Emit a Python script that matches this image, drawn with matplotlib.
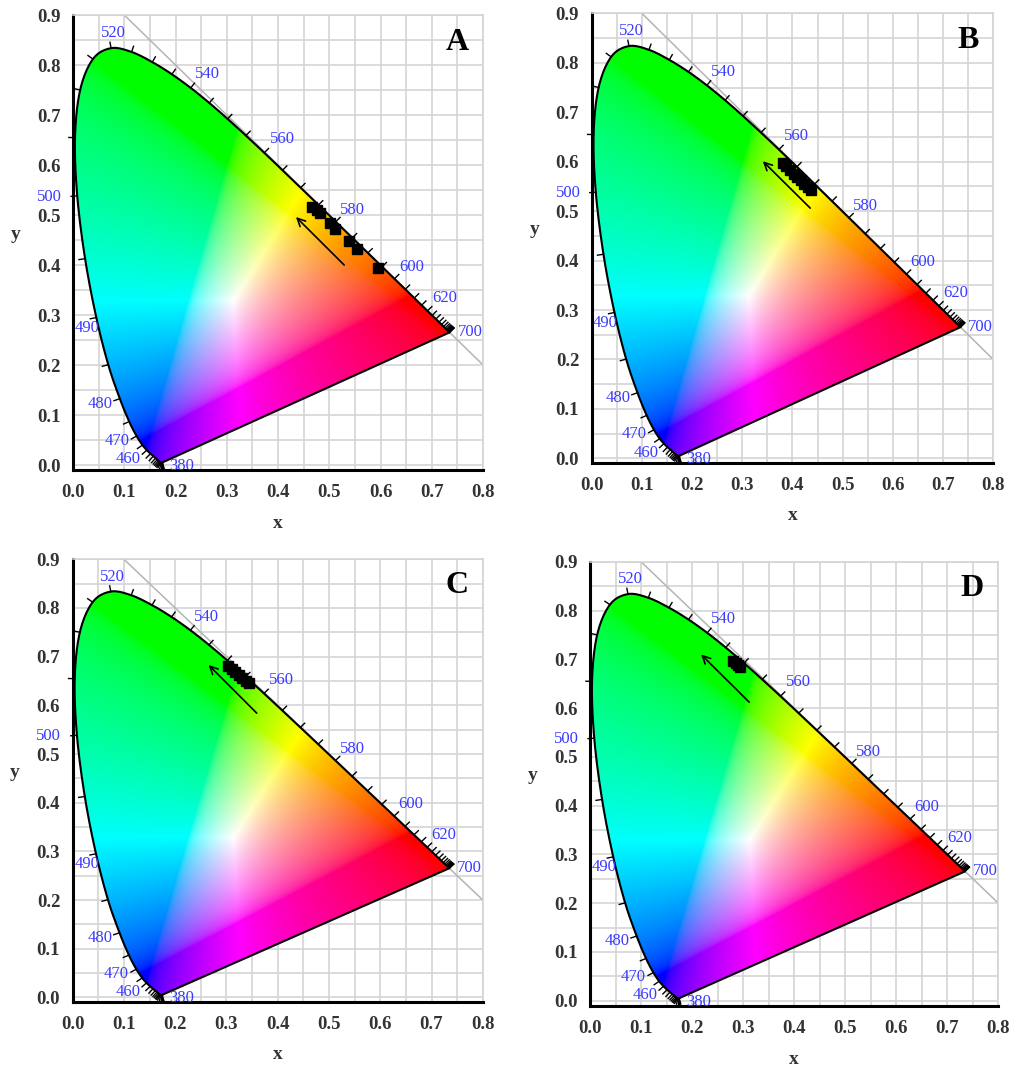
import numpy as np
import matplotlib
matplotlib.use("Agg")
import matplotlib.pyplot as plt
from matplotlib.patches import Polygon

plt.rcParams['font.family'] = ['Liberation Serif', 'DejaVu Serif']

# CIE 1931 2 deg spectral locus, 380-700 nm every 5 nm
wavelengths = list(range(380, 705, 5))
locus_x = [0.1741, 0.1740, 0.1738, 0.1736, 0.1733, 0.1730, 0.1726, 0.1721, 0.1714, 0.1703,
           0.1689, 0.1669, 0.1644, 0.1611, 0.1566, 0.1510, 0.1440, 0.1355, 0.1241, 0.1096,
           0.0913, 0.0687, 0.0454, 0.0235, 0.0082, 0.0039, 0.0139, 0.0389, 0.0743, 0.1142,
           0.1547, 0.1929, 0.2296, 0.2658, 0.3016, 0.3373, 0.3731, 0.4087, 0.4441, 0.4788,
           0.5125, 0.5448, 0.5752, 0.6029, 0.6270, 0.6482, 0.6658, 0.6801, 0.6915, 0.7006,
           0.7079, 0.7140, 0.7190, 0.7230, 0.7260, 0.7283, 0.7300, 0.7311, 0.7320, 0.7327,
           0.7334, 0.7340, 0.7344, 0.7346, 0.7347]
locus_y = [0.0050, 0.0050, 0.0049, 0.0049, 0.0048, 0.0048, 0.0048, 0.0048, 0.0051, 0.0058,
           0.0069, 0.0086, 0.0109, 0.0138, 0.0177, 0.0227, 0.0297, 0.0399, 0.0578, 0.0868,
           0.1327, 0.2007, 0.2950, 0.4127, 0.5384, 0.6548, 0.7502, 0.8120, 0.8338, 0.8262,
           0.8059, 0.7816, 0.7543, 0.7243, 0.6923, 0.6589, 0.6245, 0.5896, 0.5547, 0.5202,
           0.4866, 0.4544, 0.4242, 0.3965, 0.3725, 0.3514, 0.3340, 0.3197, 0.3083, 0.2993,
           0.2920, 0.2859, 0.2809, 0.2770, 0.2740, 0.2717, 0.2700, 0.2689, 0.2680, 0.2673,
           0.2666, 0.2660, 0.2656, 0.2654, 0.2653]

labelled_wl = [380, 460, 470, 480, 490, 500, 520, 540, 560, 580, 600, 620, 700]

# measured chromaticity coordinates for each sample set
panels = ['A', 'B', 'C', 'D']
pts_a_x = [0.466, 0.4755, 0.482, 0.501, 0.511, 0.539, 0.554, 0.5945]
pts_a_y = [0.517, 0.510, 0.504, 0.484, 0.472, 0.448, 0.432, 0.395]
pts_b_x = [0.381, 0.388, 0.395, 0.403, 0.410, 0.417, 0.424, 0.431, 0.436]
pts_b_y = [0.598, 0.591, 0.584, 0.576, 0.569, 0.562, 0.555, 0.548, 0.542]
pts_c_x = [0.303, 0.310, 0.317, 0.324, 0.331, 0.338, 0.343]
pts_c_y = [0.681, 0.675, 0.669, 0.663, 0.657, 0.650, 0.645]
pts_d_x = [0.281, 0.285, 0.289, 0.293]
pts_d_y = [0.696, 0.692, 0.688, 0.684]

# shift arrows: (tail x, tail y, head x, head y)
arrow_a = (0.529, 0.400, 0.435, 0.496)
arrow_b = (0.4355, 0.506, 0.341, 0.601)
arrow_c = (0.359, 0.584, 0.265, 0.683)
arrow_d = (0.312, 0.612, 0.2175, 0.710)

points = {'A': (pts_a_x, pts_a_y), 'B': (pts_b_x, pts_b_y),
          'C': (pts_c_x, pts_c_y), 'D': (pts_d_x, pts_d_y)}
arrows = {'A': arrow_a, 'B': arrow_b, 'C': arrow_c, 'D': arrow_d}

# axes rectangles in figure fractions
rects = {'A': [0.0723, 0.5595, 0.406, 0.4264],
         'B': [0.5858, 0.5658, 0.3976, 0.4217],
         'C': [0.0720, 0.0607, 0.406, 0.4151],
         'D': [0.5842, 0.0575, 0.4043, 0.4160]}
xlab_y = {'A': -0.099, 'B': -0.098, 'C': -0.099, 'D': -0.103}

# text offsets for the wavelength labels
lab_off = {380: (0.038, -0.007), 460: (-0.036, -0.018), 470: (-0.039, -0.009),
           480: (-0.038, -0.010), 490: (-0.018, -0.021), 500: (-0.055, -0.002),
           520: (0.004, 0.030), 540: (0.032, 0.028), 560: (0.035, 0.028),
           580: (0.033, 0.024), 600: (0.033, 0.024), 620: (0.033, 0.026),
           700: (0.040, 0.001)}


def smooth_curve(xs, ys, n=12):
    # Catmull-Rom through the locus points so the outline is not faceted
    P = np.column_stack([xs, ys])
    P = np.vstack([P[0], P, P[-1]])
    out = []
    t = np.linspace(0, 1, n, endpoint=False)[:, None]
    for k in range(1, len(P) - 2):
        p0, p1, p2, p3 = P[k - 1], P[k], P[k + 1], P[k + 2]
        seg = 0.5 * (2 * p1 + (-p0 + p2) * t + (2 * p0 - 5 * p1 + 4 * p2 - p3) * t ** 2
                     + (-p0 + 3 * p1 - 3 * p2 + p3) * t ** 3)
        out.append(seg)
    out.append(P[-2][None, :])
    return np.vstack(out)


# colour field: xy -> XYZ (Y=1) -> linear sRGB, clipped and scaled to max
M = np.array([[3.2406, -1.5372, -0.4986],
              [-0.9689, 1.8758, 0.0415],
              [0.0557, -0.2040, 1.0570]])
gx = np.linspace(0.0, 0.8, 640)
gy = np.linspace(0.001, 0.9, 720)
GX, GY = np.meshgrid(gx, gy)
xyz = np.stack([GX / GY, np.ones_like(GX), (1 - GX - GY) / GY], axis=-1)
rgb = xyz @ M.T
rgb = np.clip(rgb, 0, None)
rgb = rgb / rgb.max(axis=-1, keepdims=True)
rgb = np.where(rgb <= 0.0031308, 12.92 * rgb, 1.055 * rgb ** (1 / 2.4) - 0.055)
rgb = np.clip(rgb, 0, 1)

lx = np.array(locus_x)
ly = np.array(locus_y)
curve = smooth_curve(lx, ly)
tx = np.gradient(lx)
ty = np.gradient(ly)
nrm = np.hypot(tx, ty)
nrm[nrm == 0] = 1
nx = -ty / nrm
ny = tx / nrm
tick_len = 0.012

fig = plt.figure(figsize=(10.1, 10.67), dpi=100)

for p in panels:
    ax = fig.add_axes(rects[p])
    ax.set_xlim(0, 0.8)
    ax.set_ylim(-0.01, 0.9)

    ax.set_xticks(np.arange(0, 0.81, 0.1))
    ax.set_xticks(np.arange(0, 0.81, 0.05), minor=True)
    ax.set_yticks(np.arange(0, 0.91, 0.1))
    ax.set_yticks(np.arange(0, 0.91, 0.05), minor=True)
    ax.set_xticklabels(['%.1f' % v for v in np.arange(0, 0.81, 0.1)])
    ax.set_yticklabels(['%.1f' % v for v in np.arange(0, 0.91, 0.1)])
    ax.grid(True, which='both', color='#d4d4d4', lw=1.2, zorder=0)
    ax.set_axisbelow(True)
    ax.tick_params(which='both', length=0, labelsize=13.5, colors='#333333')
    ax.tick_params(axis='x', pad=10)
    ax.tick_params(axis='y', pad=9)
    for lbl in ax.get_xticklabels() + ax.get_yticklabels():
        lbl.set_fontweight('bold')

    for s in ['left', 'bottom']:
        ax.spines[s].set_linewidth(2.2)
        ax.spines[s].set_color('black')
    for s in ['top', 'right']:
        ax.spines[s].set_linewidth(1.2)
        ax.spines[s].set_color('#d4d4d4')

    ax.set_xlabel('x', fontsize=14, fontweight='bold', color='#333333')
    ax.set_ylabel('y', fontsize=14, fontweight='bold', color='#333333', rotation=0)
    ax.xaxis.set_label_coords(0.5, xlab_y[p])
    ax.yaxis.set_label_coords(-0.141, 0.50)

    # x + y = 1 line
    ax.plot([0.1, 0.8], [0.9, 0.2], color='#b4b4b4', lw=1.1, zorder=1)

    im = ax.imshow(rgb, origin='lower', extent=(0, 0.8, 0.001, 0.9),
                   aspect='auto', interpolation='bilinear', zorder=2)
    poly = Polygon(curve, closed=True, transform=ax.transData)
    im.set_clip_path(poly)

    ax.plot(np.append(curve[:, 0], curve[0, 0]), np.append(curve[:, 1], curve[0, 1]),
            color='black', lw=1.5, zorder=3)
    for i in range(len(lx)):
        ax.plot([lx[i], lx[i] + nx[i] * tick_len], [ly[i], ly[i] + ny[i] * tick_len],
                color='black', lw=1.0, zorder=3, clip_on=False)

    for w in labelled_wl:
        i = wavelengths.index(w)
        dx, dy = lab_off[w]
        ax.text(lx[i] + dx, ly[i] + dy, str(w), color='#3a3aff', fontsize=12,
                ha='center', va='center', zorder=4, clip_on=False)

    px, py = points[p]
    ax.plot(px, py, 's', color='black', ms=6.5, zorder=5)

    t_x, t_y, h_x, h_y = arrows[p]
    ax.annotate('', xy=(h_x, h_y), xytext=(t_x, t_y),
                arrowprops=dict(arrowstyle='->', color='black', lw=1.2,
                                mutation_scale=14, shrinkA=0, shrinkB=0),
                zorder=6)

    ax.text(0.749, 0.846, p, fontsize=23, fontweight='bold', ha='center',
            va='center', zorder=6)

fig.savefig('out.png', dpi=100)
